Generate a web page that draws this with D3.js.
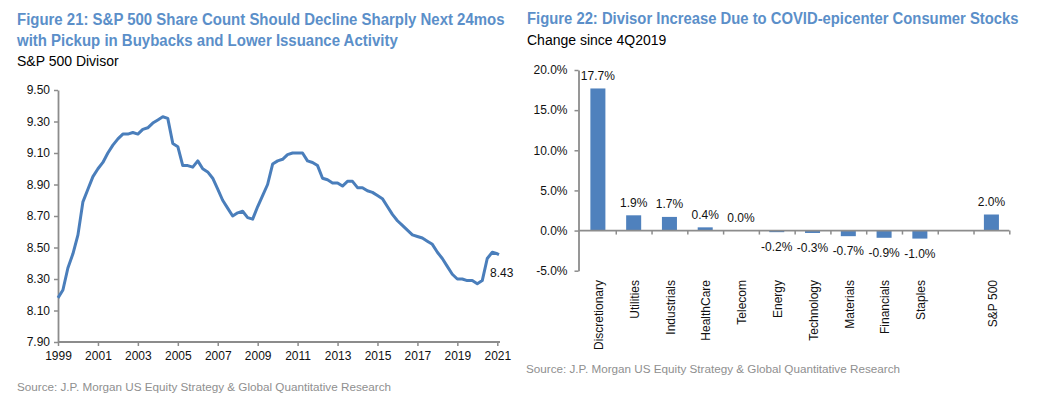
<!DOCTYPE html>
<html><head><meta charset="utf-8">
<script src="https://cdn.jsdelivr.net/npm/d3@7"></script>
<style>
html,body{margin:0;padding:0;background:#fff;}
svg{display:block;font-family:"Liberation Sans",Arial,sans-serif;}
</style></head>
<body>
<svg id="c" width="1048" height="396"></svg>
<script>
// ---------- Figure 21 data ----------
const dates = [
"1999-01","1999-04","1999-07","1999-10","2000-01","2000-04","2000-07","2000-10",
"2001-01","2001-04","2001-07","2001-10","2002-01","2002-04","2002-07","2002-10",
"2003-01","2003-04","2003-07","2003-10","2004-01","2004-04","2004-07","2004-10",
"2005-01","2005-04","2005-07","2005-10","2006-01","2006-04","2006-07","2006-10",
"2007-01","2007-04","2007-07","2007-10","2008-01","2008-04","2008-07","2008-10",
"2009-01","2009-04","2009-07","2009-10","2010-01","2010-04","2010-07","2010-10",
"2011-01","2011-04","2011-07","2011-10","2012-01","2012-04","2012-07","2012-10",
"2013-01","2013-04","2013-07","2013-10","2014-01","2014-04","2014-07","2014-10",
"2015-01","2015-04","2015-07","2015-10","2016-01","2016-04","2016-07","2016-10",
"2017-01","2017-04","2017-07","2017-10","2018-01","2018-04","2018-07","2018-10",
"2019-01","2019-04","2019-07","2019-10","2020-01","2020-04","2020-07","2020-10",
"2021-01","2021-02"];
const divisor = [
8.18,8.23,8.37,8.46, 8.58,8.79,8.87,8.95,
9.00,9.04,9.10,9.15, 9.19,9.22,9.22,9.23,
9.22,9.25,9.26,9.29, 9.31,9.33,9.32,9.16,
9.14,9.02,9.02,9.01, 9.05,9.00,8.98,8.94,
8.87,8.80,8.75,8.70, 8.72,8.73,8.69,8.68,
8.76,8.83,8.90,9.03, 9.05,9.06,9.09,9.10,
9.10,9.10,9.05,9.04, 9.02,8.94,8.93,8.91,
8.91,8.89,8.92,8.92, 8.88,8.88,8.86,8.85,
8.83,8.81,8.76,8.71, 8.67,8.64,8.61,8.58,
8.57,8.56,8.54,8.52, 8.47,8.43,8.38,8.33,
8.30,8.30,8.29,8.29, 8.27,8.29,8.43,8.47,
8.46,8.455];
const yTicks21 = [7.90,8.10,8.30,8.50,8.70,8.90,9.10,9.30,9.50];
const xTickYears21 = [1999,2001,2003,2005,2007,2009,2011,2013,2015,2017,2019,2021];
const endLabel21 = "8.43";

// ---------- Figure 22 data ----------
const sectors = ["Discretionary","Utilities","Industrials","HealthCare","Telecom","Energy","Technology","Materials","Financials","Staples"," ","S&P 500"];
const changes = [17.7,1.9,1.7,0.4,0.0,-0.2,-0.3,-0.7,-0.9,-1.0,null,2.0];
const yTicks22 = [-5,0,5,10,15,20];

const titleBlue = "#5b8fc9";
const lineBlue = "#4a7ebb";
const barBlue = "#4f81bd";
const axisGray = "#8c8c8c";
const srcGray = "#8f8f8f";
const pct = v => v.toFixed(1) + "%";

const svg = d3.select("#c");

// ---------- Titles ----------
function txt(x,y,s,opts){
  const t = svg.append("text").text(s)
    .attr("font-size",opts.size).attr("fill",opts.fill||"#000")
    .attr("font-weight",opts.bold?"bold":"normal");
  if(opts.len){
    const w = t.node().getComputedTextLength();
    t.attr("transform",`translate(${x},${y}) scale(${opts.len/w},1)`);
  } else {
    t.attr("x",x).attr("y",y);
  }
  return t;
}
txt(17,25,"Figure 21: S&P 500 Share Count Should Decline Sharply Next 24mos",{size:17,bold:true,fill:titleBlue,len:488});
txt(17,45.5,"with Pickup in Buybacks and Lower Issuance Activity",{size:17,bold:true,fill:titleBlue,len:381});
txt(17,66,"S&P 500 Divisor",{size:14});
txt(527,24,"Figure 22: Divisor Increase Due to COVID-epicenter Consumer Stocks",{size:17,bold:true,fill:titleBlue,len:492});
txt(527,44.5,"Change since 4Q2019",{size:14});
txt(17,391,"Source: J.P. Morgan US Equity Strategy & Global Quantitative Research",{size:11.7,fill:srcGray});
txt(526,373,"Source: J.P. Morgan US Equity Strategy & Global Quantitative Research",{size:11.7,fill:srcGray});

// ---------- Figure 21: line ----------
const parse = d3.timeParse("%Y-%m");
const series = dates.map((d,i)=>({date:parse(d),v:divisor[i]}));
const x21 = d3.scaleTime().domain([new Date(1999,0,1),new Date(2021,0,1)]).range([58,497.3]);
const y21 = d3.scaleLinear().domain([7.9,9.5]).range([342,90]);

const g21 = svg.append("g");
const yAx = g21.append("g").attr("transform","translate(58,0)")
  .call(d3.axisLeft(y21).tickValues(yTicks21).tickFormat(d=>d.toFixed(2)).tickSize(4).tickPadding(4).tickSizeOuter(0));
const xAx = g21.append("g").attr("transform","translate(0,342)")
  .call(d3.axisBottom(x21).tickValues(xTickYears21.map(y=>new Date(y,0,1))).tickFormat(d3.timeFormat("%Y")).tickSize(4).tickPadding(5).tickSizeOuter(0));
xAx.select(".domain").remove();
g21.append("line").attr("x1",58).attr("x2",500).attr("y1",342).attr("y2",342).attr("stroke",axisGray).attr("stroke-width",1.8);
[yAx,xAx].forEach(a=>{
  a.selectAll(".domain").attr("stroke",axisGray).attr("stroke-width",1.8);
  a.selectAll(".tick line").attr("stroke",axisGray).attr("stroke-width",1.5);
  a.selectAll(".tick text").attr("font-size",12).attr("fill","#111").attr("font-family","Liberation Sans,Arial,sans-serif");
});

g21.append("path").datum(series)
  .attr("fill","none").attr("stroke",lineBlue).attr("stroke-width",3).attr("stroke-linejoin","round")
  .attr("d",d3.line().x(d=>x21(d.date)).y(d=>y21(d.v)));
const last = series[series.length-1];
g21.append("text").attr("x",x21(last.date)-9).attr("y",y21(last.v)+22)
  .attr("font-size",12).attr("fill","#111").text(endLabel21);

// ---------- Figure 22: bars ----------
const x22 = d3.scaleBand().domain(sectors).range([580,1009.3]).paddingInner(0.58).paddingOuter(0.29);
const y22 = d3.scaleLinear().domain([-5,20]).range([270.7,70]);
const g22 = svg.append("g");

const bars = sectors.map((s,i)=>({s,v:changes[i]})).filter(d=>d.v!==null);
g22.selectAll("rect").data(bars).join("rect")
  .attr("x",d=>x22(d.s)).attr("width",x22.bandwidth())
  .attr("y",d=>y22(Math.max(0,d.v))).attr("height",d=>Math.abs(y22(d.v)-y22(0)))
  .attr("fill",barBlue);

const yAx2 = g22.append("g").attr("transform","translate(578.5,0)")
  .call(d3.axisLeft(y22).tickValues(yTicks22).tickFormat(pct).tickSize(4).tickPadding(7).tickSizeOuter(0));
const slot = d3.scaleLinear().domain([0,sectors.length]).range([580,1009.3]);
const xAx2 = g22.append("g").attr("transform",`translate(0,${y22(0)})`)
  .call(d3.axisBottom(slot).tickValues(d3.range(1,sectors.length+1)).tickFormat("").tickSize(4).tickSizeOuter(0));
xAx2.select(".domain").remove();
g22.append("line").attr("x1",578.5).attr("x2",1009.3).attr("y1",y22(0)).attr("y2",y22(0)).attr("stroke",axisGray).attr("stroke-width",1.8);
[yAx2,xAx2].forEach(a=>{
  a.selectAll(".domain").attr("stroke",axisGray).attr("stroke-width",1.8);
  a.selectAll(".tick line").attr("stroke",axisGray).attr("stroke-width",1.5);
  a.selectAll(".tick text").attr("font-size",12).attr("fill","#111").attr("font-family","Liberation Sans,Arial,sans-serif");
});

g22.selectAll("text.val").data(bars).join("text").attr("class","val")
  .attr("x",d=>x22(d.s)+x22.bandwidth()/2)
  .attr("y",d=>d.v>=0? y22(d.v)-8.5 : y22(d.v)+19)
  .attr("text-anchor","middle").attr("font-size",12).attr("fill","#111")
  .text(d=>pct(d.v));

g22.selectAll("text.cat").data(sectors.filter(s=>s.trim()!=="")).join("text").attr("class","cat")
  .attr("transform",d=>`translate(${x22(d)+x22.bandwidth()/2+1},280) rotate(-90)`)
  .attr("text-anchor","end").attr("dy","0.35em")
  .attr("font-size",12).attr("fill","#111").text(d=>d);
</script>
</body></html>
